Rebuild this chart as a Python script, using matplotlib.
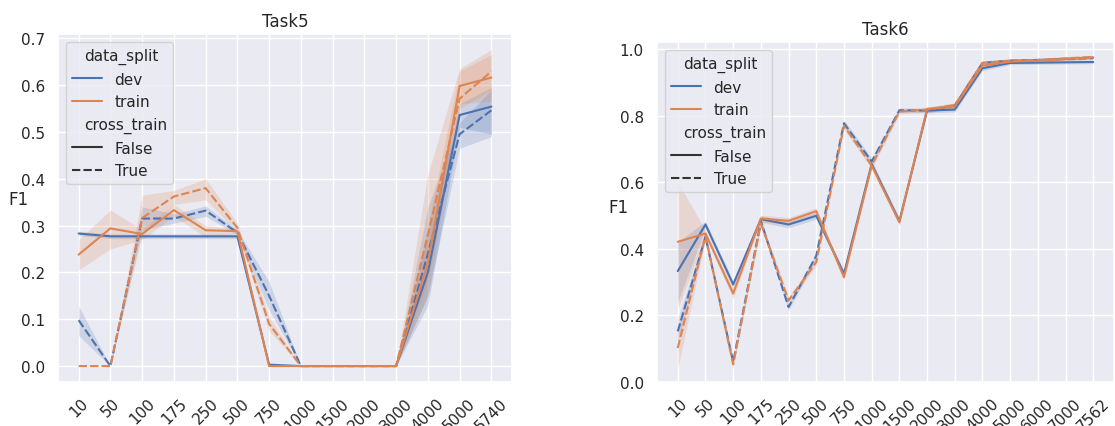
import matplotlib
matplotlib.use("Agg")
import matplotlib.pyplot as plt
from matplotlib.lines import Line2D
import seaborn as sns
from seaborn.utils import adjust_legend_subtitles

sns.set_theme()

# ---------------- Task5 ----------------
t5_x = ["10", "50", "100", "175", "250", "500", "750", "1000", "1500", "2000", "3000", "4000", "5000", "5740"]
t5_dev_false = [0.283, 0.277, 0.277, 0.277, 0.277, 0.277, 0.003, 0, 0, 0, 0, 0.20, 0.536, 0.554]
t5_dev_false_lo = [0.279, 0.272, 0.272, 0.272, 0.272, 0.272, 0.0, 0, 0, 0, 0, 0.13, 0.51, 0.495]
t5_dev_false_hi = [0.288, 0.282, 0.282, 0.282, 0.282, 0.282, 0.005, 0, 0, 0, 0, 0.28, 0.56, 0.595]
t5_dev_true = [0.098, 0.0, 0.315, 0.315, 0.332, 0.285, 0.15, 0, 0, 0, 0, 0.24, 0.495, 0.546]
t5_dev_true_lo = [0.065, 0.0, 0.29, 0.305, 0.32, 0.28, 0.12, 0, 0, 0, 0, 0.15, 0.465, 0.49]
t5_dev_true_hi = [0.128, 0.0, 0.34, 0.325, 0.342, 0.29, 0.18, 0, 0, 0, 0, 0.34, 0.52, 0.59]
t5_train_false = [0.238, 0.294, 0.282, 0.333, 0.29, 0.288, 0.0, 0, 0, 0, 0, 0.22, 0.598, 0.616]
t5_train_false_lo = [0.205, 0.25, 0.27, 0.32, 0.275, 0.283, 0.0, 0, 0, 0, 0, 0.15, 0.56, 0.565]
t5_train_false_hi = [0.27, 0.333, 0.292, 0.345, 0.30, 0.293, 0.0, 0, 0, 0, 0, 0.30, 0.63, 0.665]
t5_train_true = [0.0, 0.0, 0.316, 0.362, 0.38, 0.295, 0.09, 0, 0, 0, 0, 0.28, 0.571, 0.629]
t5_train_true_lo = [0.0, 0.0, 0.28, 0.345, 0.355, 0.285, 0.075, 0, 0, 0, 0, 0.18, 0.55, 0.59]
t5_train_true_hi = [0.0, 0.0, 0.365, 0.375, 0.40, 0.305, 0.105, 0, 0, 0, 0, 0.41, 0.635, 0.676]

# ---------------- Task6 ----------------
t6_x = ["10", "50", "100", "175", "250", "500", "750", "1000", "1500", "2000", "3000", "4000", "5000", "6000", "7000", "7562"]
t6_dev_false = [0.333, 0.473, 0.293, 0.489, 0.473, 0.499, 0.325, 0.655, 0.483, 0.815, 0.818, 0.942, 0.958, 0.959, 0.960, 0.961]
t6_dev_false_lo = [0.24, 0.463, 0.283, 0.479, 0.463, 0.489, 0.315, 0.645, 0.473, 0.808, 0.811, 0.935, 0.953, 0.954, 0.955, 0.956]
t6_dev_false_hi = [0.42, 0.483, 0.303, 0.499, 0.483, 0.509, 0.335, 0.665, 0.493, 0.822, 0.825, 0.949, 0.963, 0.964, 0.965, 0.966]
t6_dev_true = [0.152, 0.436, 0.06, 0.483, 0.225, 0.379, 0.777, 0.662, 0.816, 0.815, 0.83, 0.958, 0.965, 0.967, 0.97, 0.973]
t6_dev_true_lo = [0.12, 0.426, 0.05, 0.473, 0.215, 0.369, 0.767, 0.652, 0.809, 0.808, 0.823, 0.952, 0.96, 0.962, 0.965, 0.968]
t6_dev_true_hi = [0.19, 0.446, 0.07, 0.493, 0.235, 0.389, 0.787, 0.672, 0.823, 0.822, 0.837, 0.964, 0.97, 0.972, 0.975, 0.978]
t6_train_false = [0.421, 0.446, 0.266, 0.491, 0.484, 0.513, 0.315, 0.65, 0.48, 0.82, 0.827, 0.95, 0.962, 0.965, 0.97, 0.975]
t6_train_false_lo = [0.22, 0.436, 0.25, 0.481, 0.474, 0.503, 0.305, 0.64, 0.47, 0.813, 0.82, 0.944, 0.957, 0.96, 0.965, 0.97]
t6_train_false_hi = [0.60, 0.456, 0.282, 0.501, 0.494, 0.523, 0.325, 0.66, 0.49, 0.827, 0.834, 0.956, 0.967, 0.97, 0.975, 0.98]
t6_train_true = [0.102, 0.439, 0.053, 0.476, 0.245, 0.36, 0.769, 0.65, 0.812, 0.818, 0.832, 0.958, 0.965, 0.967, 0.972, 0.976]
t6_train_true_lo = [0.04, 0.429, 0.043, 0.466, 0.235, 0.35, 0.759, 0.64, 0.805, 0.811, 0.825, 0.952, 0.96, 0.962, 0.967, 0.971]
t6_train_true_hi = [0.16, 0.449, 0.063, 0.486, 0.255, 0.37, 0.779, 0.66, 0.819, 0.825, 0.839, 0.964, 0.97, 0.972, 0.977, 0.981]

BLUE = "#4c72b0"
ORANGE = "#dd8452"
DASH = (0, (4, 1.5))

fig = plt.figure(figsize=(11.15, 4.27), dpi=100)
ax1 = fig.add_axes([58 / 1115, 44 / 427, 454 / 1115, 348 / 427])
ax2 = fig.add_axes([657 / 1115, 44 / 427, 457 / 1115, 340 / 427])


def draw(ax, labels, series, title, yticks, ylim, ylab_xy):
    x = list(range(len(labels)))
    for mean, lo, hi, color, ls in series:
        ax.plot(x, mean, color=color, linestyle=ls, lw=1.5)
        ax.fill_between(x, lo, hi, color=color, alpha=0.2, linewidth=0)
    ax.set_xticks(x)
    ax.set_xticklabels(labels, rotation=45)
    ax.set_yticks(yticks)
    ax.set_ylim(*ylim)
    ax.set_title(title)
    ax.set_ylabel("F1", rotation=0, va="center", ha="center")
    ax.yaxis.set_label_coords(*ylab_xy)
    handles = [
        Line2D([], [], linestyle="none"),
        Line2D([], [], color=BLUE, lw=1.5),
        Line2D([], [], color=ORANGE, lw=1.5),
        Line2D([], [], linestyle="none"),
        Line2D([], [], color="#333333", lw=1.5),
        Line2D([], [], color="#333333", lw=1.5, linestyle=DASH),
    ]
    names = ["data_split", "dev", "train", "cross_train", "False", "True"]
    leg = ax.legend(handles, names, loc="upper left", fontsize=11)
    for h in leg.legend_handles[:1] + leg.legend_handles[3:4]:
        h.set_visible(False)
    adjust_legend_subtitles(leg)
    for t in leg.get_texts():
        t.set_fontsize(11)


draw(ax1, t5_x, [
    (t5_dev_false, t5_dev_false_lo, t5_dev_false_hi, BLUE, "-"),
    (t5_dev_true, t5_dev_true_lo, t5_dev_true_hi, BLUE, DASH),
    (t5_train_false, t5_train_false_lo, t5_train_false_hi, ORANGE, "-"),
    (t5_train_true, t5_train_true_lo, t5_train_true_hi, ORANGE, DASH),
], "Task5", [0.0, 0.1, 0.2, 0.3, 0.4, 0.5, 0.6, 0.7], (-0.034, 0.709), (-0.088, 0.526))

draw(ax2, t6_x, [
    (t6_dev_false, t6_dev_false_lo, t6_dev_false_hi, BLUE, "-"),
    (t6_dev_true, t6_dev_true_lo, t6_dev_true_hi, BLUE, DASH),
    (t6_train_false, t6_train_false_lo, t6_train_false_hi, ORANGE, "-"),
    (t6_train_true, t6_train_true_lo, t6_train_true_hi, ORANGE, DASH),
], "Task6", [0.0, 0.2, 0.4, 0.6, 0.8, 1.0], (0.0, 1.021), (-0.085, 0.515))

fig.savefig("out.png", dpi=100)
